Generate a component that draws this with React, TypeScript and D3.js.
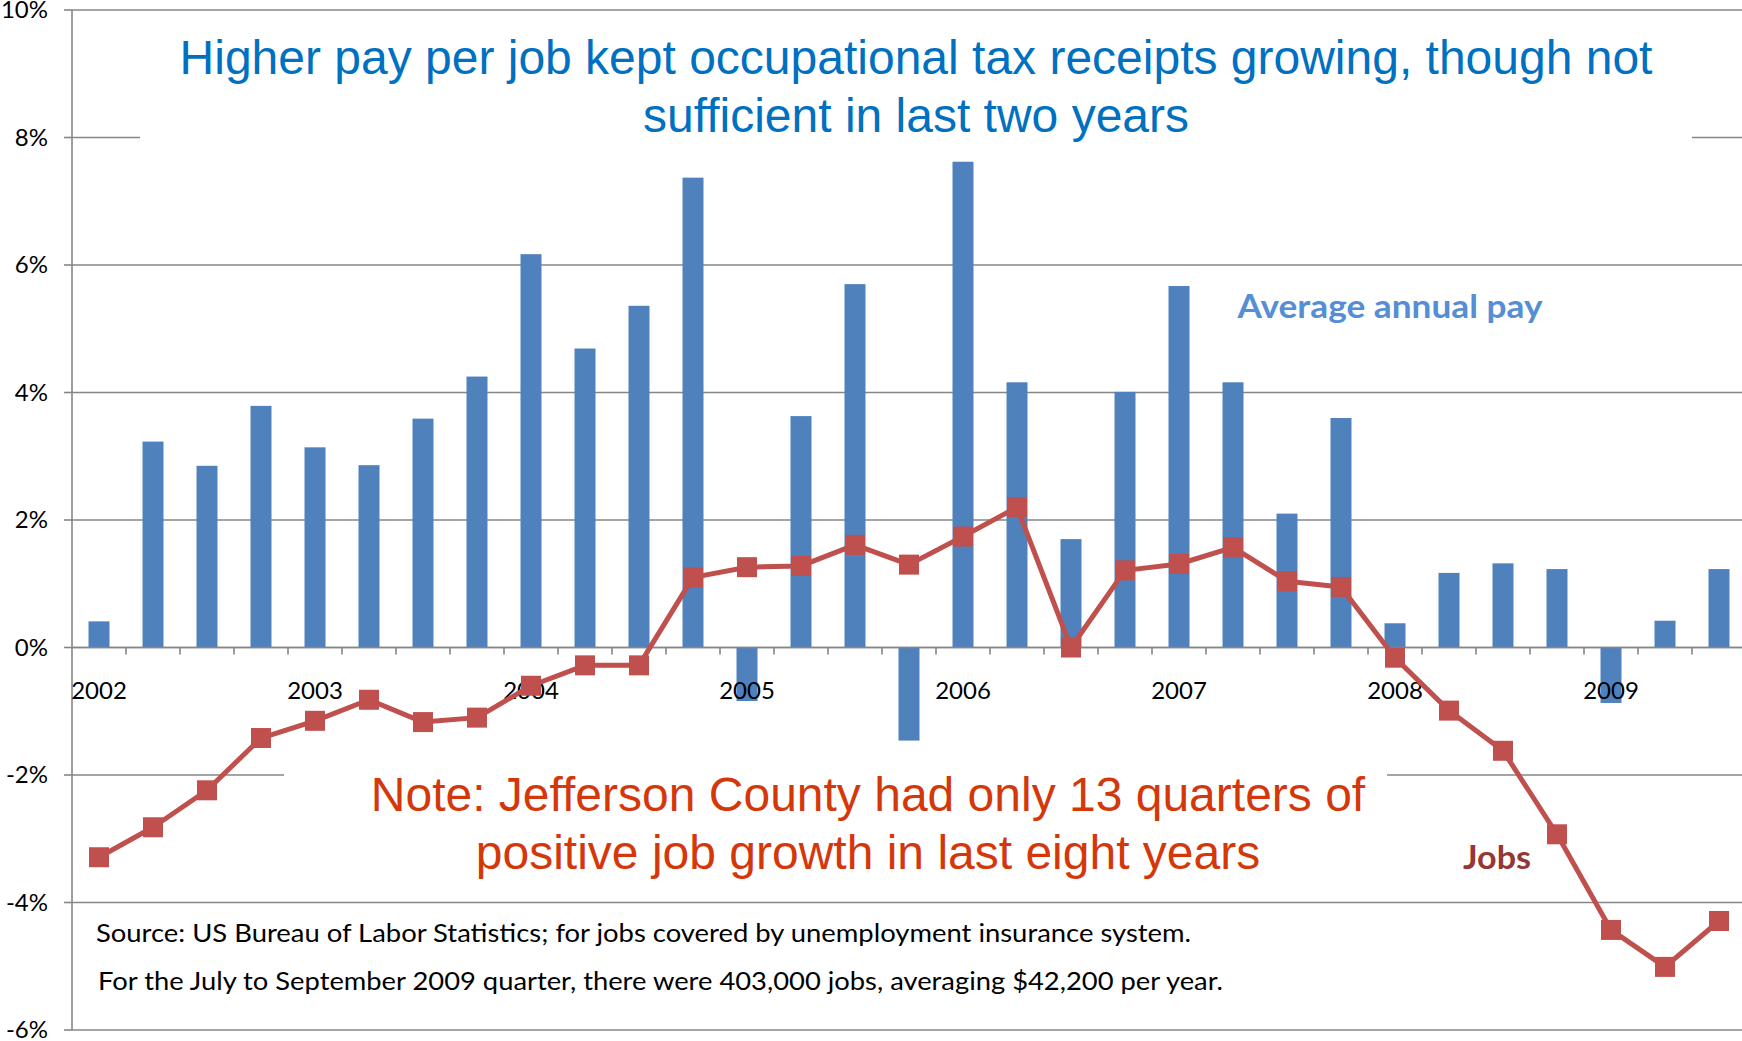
import React from "react";
import * as d3 from "d3";

const quarters = [
  "2002Q1","2002Q2","2002Q3","2002Q4",
  "2003Q1","2003Q2","2003Q3","2003Q4",
  "2004Q1","2004Q2","2004Q3","2004Q4",
  "2005Q1","2005Q2","2005Q3","2005Q4",
  "2006Q1","2006Q2","2006Q3","2006Q4",
  "2007Q1","2007Q2","2007Q3","2007Q4",
  "2008Q1","2008Q2","2008Q3","2008Q4",
  "2009Q1","2009Q2","2009Q3",
];

const payGrowth = [
  0.41, 3.23, 2.85, 3.79,
  3.14, 2.86, 3.59, 4.25,
  6.17, 4.69, 5.36, 7.37,
  -0.84, 3.63, 5.70, -1.46,
  7.62, 4.16, 1.70, 4.01,
  5.67, 4.16, 2.10, 3.60,
  0.38, 1.17, 1.32, 1.23,
  -0.87, 0.42, 1.23,
];

const jobsGrowth = [
  -3.29, -2.82, -2.24, -1.42,
  -1.15, -0.82, -1.17, -1.10,
  -0.60, -0.28, -0.28, 1.10,
  1.26, 1.28, 1.61, 1.30,
  1.74, 2.20, 0.0, 1.21,
  1.31, 1.57, 1.04, 0.95,
  -0.16, -0.99, -1.62, -2.93,
  -4.43, -5.01, -4.29,
];

const yearLabels = [
  { q: "2002Q1", label: "2002" },
  { q: "2003Q1", label: "2003" },
  { q: "2004Q1", label: "2004" },
  { q: "2005Q1", label: "2005" },
  { q: "2006Q1", label: "2006" },
  { q: "2007Q1", label: "2007" },
  { q: "2008Q1", label: "2008" },
  { q: "2009Q1", label: "2009" },
];

const yTicks = [-6, -4, -2, 0, 2, 4, 6, 8, 10];

const titleLines = [
  "Higher pay per job kept occupational tax receipts growing, though not",
  "sufficient in last two years",
];
const noteLines = [
  "Note: Jefferson County had only 13 quarters of",
  "positive job growth in last eight years",
];
const sourceLines = [
  "Source: US Bureau of Labor Statistics; for jobs covered by unemployment insurance system.",
  "For the July to September 2009 quarter, there were  403,000  jobs, averaging $42,200  per year.",
];

const W = 1742;
const H = 1041;
const X0 = 72;
const BAND = 54;

const PAY_COLOR = "#4F81BD";
const JOBS_COLOR = "#C0504D";
const GRID = "#868686";
const CAL = "Lato, 'Open Sans', sans-serif";
const ARIAL = "'Liberation Sans', Arial, sans-serif";

export default function App() {
  const xb = d3.scaleBand<string>().domain(quarters).range([X0, X0 + BAND * quarters.length]);
  const y = d3.scaleLinear().domain([-6, 10]).range([1030, 10]);
  const cx = (q: string) => (xb(q) as number) + xb.bandwidth() / 2;

  const line = d3
    .line<number>()
    .x((_, i) => cx(quarters[i]))
    .y((d) => y(d));

  const barW = 21;
  const mk = 20;

  return (
    <svg
      width={W}
      height={H}
      style={{ position: "absolute", left: 0, top: 0, background: "#fff" }}
    >
      {yTicks.map((t) => (
        <line key={"g" + t} x1={X0} x2={W} y1={y(t)} y2={y(t)} stroke={GRID} strokeWidth={1.6} />
      ))}
      <rect x={140} y={22} width={1552} height={128} fill="#fff" />
      <rect x={284} y={752} width={1103} height={130} fill="#fff" />

      <line x1={X0} x2={X0} y1={y(10)} y2={y(-6)} stroke={GRID} strokeWidth={1.6} />
      {yTicks.map((t) => (
        <g key={"yt" + t}>
          <line x1={X0 - 8} x2={X0} y1={y(t)} y2={y(t)} stroke={GRID} strokeWidth={1.6} />
          <text
            x={48}
            y={y(t)}
            dy="0.35em"
            textAnchor="end"
            fontFamily={CAL}
            fontSize={24}
            fill="#000"
          >
            {t + "%"}
          </text>
        </g>
      ))}

      {payGrowth.map((v, i) => (
        <rect
          key={"b" + i}
          x={cx(quarters[i]) - barW / 2}
          y={y(Math.max(0, v))}
          width={barW}
          height={Math.abs(y(v) - y(0))}
          fill={PAY_COLOR}
        />
      ))}

      <line x1={X0} x2={W} y1={y(0)} y2={y(0)} stroke={GRID} strokeWidth={1.6} />
      {quarters.map((q) => (
        <line
          key={"xt" + q}
          x1={(xb(q) as number) + BAND}
          x2={(xb(q) as number) + BAND}
          y1={y(0)}
          y2={y(0) + 7}
          stroke={GRID}
          strokeWidth={1.6}
        />
      ))}
      {yearLabels.map((d) => (
        <text
          key={"yl" + d.label}
          x={cx(d.q)}
          y={y(0) + 51}
          textAnchor="middle"
          fontFamily={CAL}
          fontSize={24}
          fill="#000"
        >
          {d.label}
        </text>
      ))}

      <path d={line(jobsGrowth) || ""} fill="none" stroke={JOBS_COLOR} strokeWidth={5} strokeLinejoin="round" />
      {jobsGrowth.map((v, i) => (
        <rect
          key={"m" + i}
          x={cx(quarters[i]) - mk / 2}
          y={y(v) - mk / 2}
          width={mk}
          height={mk}
          fill={JOBS_COLOR}
        />
      ))}

      {titleLines.map((t, i) => (
        <text
          key={"t" + i}
          x={916}
          y={74 + i * 58}
          textAnchor="middle"
          fontFamily={ARIAL}
          fontSize={48}
          fill="#0070C0"
        >
          {t}
        </text>
      ))}

      {noteLines.map((t, i) => (
        <text
          key={"n" + i}
          x={868}
          y={811 + i * 58}
          textAnchor="middle"
          fontFamily={ARIAL}
          fontSize={48}
          fill="#D4380A"
        >
          {t}
        </text>
      ))}

      <text x={1390} y={318} textAnchor="middle" fontFamily={CAL} fontWeight="bold" fontSize={33}
        fill="#558ED5" textLength={305} lengthAdjust="spacingAndGlyphs">
        Average annual pay
      </text>
      <text x={1497} y={869} textAnchor="middle" fontFamily={CAL} fontWeight="bold" fontSize={33}
        fill="#953735" textLength={68} lengthAdjust="spacingAndGlyphs">
        Jobs
      </text>

      {sourceLines.map((t, i) => (
        <text
          key={"s" + i}
          x={i === 0 ? 96 : 98}
          y={942 + i * 48}
          fontFamily={CAL}
          fontSize={25}
          fill="#000"
          textLength={i === 0 ? 1095 : 1125}
          lengthAdjust="spacingAndGlyphs"
        >
          {t}
        </text>
      ))}
    </svg>
  );
}
